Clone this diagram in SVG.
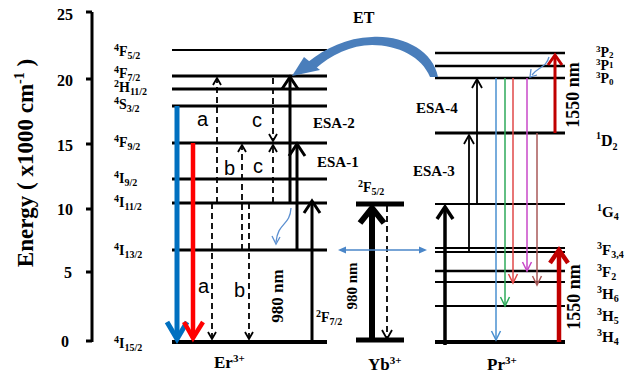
<svg xmlns="http://www.w3.org/2000/svg" width="630" height="376" viewBox="0 0 630 376">
<style>
.t{font-family:"Liberation Serif","Times New Roman",serif;font-weight:bold;fill:#000}
.s{font-size:10px}
.abc{font-family:"Liberation Sans",Arial,sans-serif;font-size:20px;fill:#000}
.lv{stroke:#000;fill:none}
.d{stroke:#000;stroke-width:1.8;stroke-dasharray:6 4;fill:none}
.h{fill:none;stroke-linejoin:miter}
</style>
<rect width="630" height="376" fill="#fff"/>
<g id="axis">
<path d="M92 12V342M86 12H92M86 79H92M86 144H92M86 209H92M86 272H92M86 341H92" stroke="#000" stroke-width="3" fill="none"/>
<g class="t" font-size="16" text-anchor="end">
<text x="73" y="20">25</text><text x="73" y="86">20</text><text x="73" y="151">15</text><text x="73" y="215">10</text><text x="72" y="278">5</text><text x="69" y="347">0</text>
</g>
<text class="t" font-size="23" text-anchor="middle" transform="translate(33,163) rotate(-90)">Energy ( x1000 cm<tspan font-size="14" dy="-9">-1</tspan><tspan dy="9"> )</tspan></text>
</g>
<g id="er">
<path class="lv" stroke-width="2" d="M172 50H327"/>
<path class="lv" stroke-width="3" d="M172 76H327M172 89H327M172 106H327M172 143H327M172 179H327M172 203H327M172 250H327"/>
<path class="lv" stroke-width="4" d="M172 342H327"/>
<g class="t" font-size="14">
<text x="114" y="56"><tspan class="s" dy="-5">4</tspan><tspan dy="5">F</tspan><tspan class="s" dy="3">5/2</tspan></text>
<text x="114" y="78"><tspan class="s" dy="-5">4</tspan><tspan dy="5">F</tspan><tspan class="s" dy="3">7/2</tspan></text>
<text x="114" y="92"><tspan class="s" dy="-5">2</tspan><tspan dy="5">H</tspan><tspan class="s" dy="3">11/2</tspan></text>
<text x="114" y="109"><tspan class="s" dy="-5">4</tspan><tspan dy="5">S</tspan><tspan class="s" dy="3">3/2</tspan></text>
<text x="114" y="147"><tspan class="s" dy="-5">4</tspan><tspan dy="5">F</tspan><tspan class="s" dy="3">9/2</tspan></text>
<text x="114" y="183"><tspan class="s" dy="-5">4</tspan><tspan dy="5">I</tspan><tspan class="s" dy="3">9/2</tspan></text>
<text x="114" y="207"><tspan class="s" dy="-5">4</tspan><tspan dy="5">I</tspan><tspan class="s" dy="3">11/2</tspan></text>
<text x="114" y="255"><tspan class="s" dy="-5">4</tspan><tspan dy="5">I</tspan><tspan class="s" dy="3">13/2</tspan></text>
<text x="114" y="348"><tspan class="s" dy="-5">4</tspan><tspan dy="5">I</tspan><tspan class="s" dy="3">15/2</tspan></text>
</g>
<text class="t" font-size="17" x="214" y="368">Er<tspan font-size="11" dy="-6">3+</tspan></text>
<text class="t" font-size="15" x="313" y="128">ESA-2</text>
<text class="t" font-size="15" x="317" y="167">ESA-1</text>
<text class="t" font-size="14" x="316" y="322"><tspan class="s" dy="-5">2</tspan><tspan dy="5">F</tspan><tspan class="s" dy="3">7/2</tspan></text>
<text class="t" font-size="17" text-anchor="middle" transform="translate(283,296) rotate(-90)">980 nm</text>
<text class="abc" x="197" y="126">a</text><text class="abc" x="198" y="293">a</text>
<text class="abc" x="224" y="175">b</text><text class="abc" x="234" y="297">b</text>
<text class="abc" x="252" y="127">c</text><text class="abc" x="253" y="173">c</text>
</g>
<g id="yb">
<path class="lv" stroke-width="5" d="M356 204H404M356 340H404"/>
<text class="t" font-size="14" x="358" y="192"><tspan class="s" dy="-5">2</tspan><tspan dy="5">F</tspan><tspan class="s" dy="3">5/2</tspan></text>
<text class="t" font-size="17" x="368" y="370">Yb<tspan font-size="11" dy="-6">3+</tspan></text>
<text class="t" font-size="15" text-anchor="middle" transform="translate(357,286) rotate(-90)">980 nm</text>
</g>
<g id="pr">
<path class="lv" stroke-width="2.5" d="M435 53H565M435 66H565M435 78H565"/>
<path class="lv" stroke-width="3" d="M435 133H565"/>
<path class="lv" stroke-width="2" d="M435 204H565M435 248H565M435 252H565M435 282H565M435 306H565"/>
<path class="lv" stroke-width="2.5" d="M435 271H565"/>
<path class="lv" stroke-width="4" d="M435 342H565"/>
<g class="t" font-size="14">
<text x="596" y="57"><tspan font-size="9" dy="-5">3</tspan><tspan dy="5">P</tspan><tspan font-size="9" dy="1">2</tspan></text>
<text x="596" y="70"><tspan font-size="9" dy="-5">3</tspan><tspan dy="5">P</tspan><tspan font-size="9" dy="-2">1</tspan></text>
<text x="596" y="83"><tspan font-size="9" dy="-5">3</tspan><tspan dy="5">P</tspan><tspan font-size="9" dy="2">0</tspan></text>
</g>
<g class="t" font-size="16">
<text x="596" y="146"><tspan font-size="10" dy="-7">1</tspan><tspan dy="7">D</tspan><tspan font-size="10" dy="4">2</tspan></text>
</g>
<g class="t" font-size="15">
<text x="597" y="217"><tspan font-size="10" dy="-6">1</tspan><tspan dy="6">G</tspan><tspan font-size="10" dy="3">4</tspan></text>
<text x="597" y="255"><tspan font-size="10" dy="-6">3</tspan><tspan dy="6">F</tspan><tspan font-size="10" dy="3">3,4</tspan></text>
<text x="597" y="277"><tspan font-size="10" dy="-6">3</tspan><tspan dy="6">F</tspan><tspan font-size="10" dy="3">2</tspan></text>
<text x="597" y="299"><tspan font-size="10" dy="-6">3</tspan><tspan dy="6">H</tspan><tspan font-size="10" dy="3">6</tspan></text>
<text x="597" y="321"><tspan font-size="10" dy="-6">3</tspan><tspan dy="6">H</tspan><tspan font-size="10" dy="3">5</tspan></text>
<text x="597" y="342"><tspan font-size="10" dy="-6">3</tspan><tspan dy="6">H</tspan><tspan font-size="10" dy="3">4</tspan></text>
</g>
<text class="t" font-size="17" x="487" y="370">Pr<tspan font-size="11" dy="-6">3+</tspan></text>
<text class="t" font-size="15" x="416" y="113">ESA-4</text>
<text class="t" font-size="15" x="413" y="176">ESA-3</text>
<text class="t" font-size="18" text-anchor="middle" transform="translate(579,95) rotate(-90)">1550 nm</text>
<text class="t" font-size="18" text-anchor="middle" transform="translate(580,297) rotate(-90)">1550 nm</text>
</g>
<text class="t" font-size="16" x="353" y="23">ET</text>
<g id="connectors">
<path d="M177 106V338" stroke="#0070C0" stroke-width="5"/>
<path class="h" d="M167 322L177 339L187 322" stroke="#0070C0" stroke-width="5"/>
<path d="M193 143V338" stroke="#FF0000" stroke-width="4.5"/>
<path class="h" d="M184 322L193 338L203 322" stroke="#FF0000" stroke-width="4.5"/>
<path class="d" d="M217 203V78"/><path class="h" d="M213 85L217 78L221 85" stroke="#000" stroke-width="1.8"/>
<path class="d" d="M212 203V339"/><path class="h" d="M208 332L212 339L216 332" stroke="#000" stroke-width="1.8"/>
<path class="d" d="M242 250V145"/><path class="h" d="M238 152L242 145L246 152" stroke="#000" stroke-width="1.8"/>
<path class="d" d="M249 203V339"/><path class="h" d="M245 332L249 339L253 332" stroke="#000" stroke-width="1.8"/>
<path class="d" d="M273 78V141"/><path class="h" d="M269 134L273 141L277 134" stroke="#000" stroke-width="1.8"/>
<path class="d" d="M273 203V145"/><path class="h" d="M269 152L273 145L277 152" stroke="#000" stroke-width="1.8"/>
<path d="M290 203V78" stroke="#000" stroke-width="3"/><path class="h" d="M282 89L290 77L298 89" stroke="#000" stroke-width="3"/>
<path d="M297 250V145" stroke="#000" stroke-width="3"/><path class="h" d="M289 156L297 144L305 156" stroke="#000" stroke-width="3"/>
<path d="M312 342V202" stroke="#000" stroke-width="3"/><path class="h" d="M304 213L312 201L320 213" stroke="#000" stroke-width="3"/>
<path d="M291 208C290 226 278 222 276 242" stroke="#5B8FD0" stroke-width="1.3" fill="none"/>
<path class="h" d="M272 236L276 244L280 237" stroke="#5B8FD0" stroke-width="1.3"/>
<path d="M372 340V210" stroke="#000" stroke-width="6"/><path class="h" d="M360 223L372 208L384 223" stroke="#000" stroke-width="6"/>
<path class="d" d="M387 206V338"/><path class="h" d="M382 330L387 339L392 330" stroke="#000" stroke-width="1.8"/>
<path d="M344 250H421" stroke="#4A86C8" stroke-width="1.3"/>
<path d="M338 250L346 246.5V253.5Z M427 250L419 246.5V253.5Z" fill="#4A86C8"/>
<path d="M438 77C433 50 402 35 372 37C346 38 326 48 308 62L315 69C331 55 351 45 372 45C398 45 422 57 430 77Z" fill="#4A7EBB"/>
<path d="M292 76L304 57L320 70Z" fill="#4A7EBB"/>
<path d="M445 345V208" stroke="#000" stroke-width="3.5"/><path class="h" d="M437 219L445 207L453 219" stroke="#000" stroke-width="3.5"/>
<path d="M469 253V136" stroke="#000" stroke-width="1.8"/><path class="h" d="M464 144L469 135L474 144" stroke="#000" stroke-width="1.8"/>
<path d="M477 204V80" stroke="#000" stroke-width="1.8"/><path class="h" d="M472 88L477 79L482 88" stroke="#000" stroke-width="1.8"/>
<path d="M496 78V339" stroke="#4A90D0" stroke-width="1.5"/><path class="h" d="M491.5 331L496 340L500.5 331" stroke="#4A90D0" stroke-width="1.5"/>
<path d="M505 78V305" stroke="#2EAA5A" stroke-width="1.5"/><path class="h" d="M500.5 297L505 306L509.5 297" stroke="#2EAA5A" stroke-width="1.5"/>
<path d="M513 78V282" stroke="#E04848" stroke-width="1.5"/><path class="h" d="M508.5 274L513 283L517.5 274" stroke="#E04848" stroke-width="1.5"/>
<path d="M527 78V270" stroke="#C848C8" stroke-width="1.5"/><path class="h" d="M522.5 262L527 271L531.5 262" stroke="#C848C8" stroke-width="1.5"/>
<path d="M537 133V284" stroke="#A85858" stroke-width="1.5"/><path class="h" d="M532.5 276L537 285L541.5 276" stroke="#A85858" stroke-width="1.5"/>
<path d="M559 342V252" stroke="#C00000" stroke-width="4.5"/><path class="h" d="M550 263L559 250L568 263" stroke="#C00000" stroke-width="4.5"/>
<path d="M555 133V56" stroke="#C00000" stroke-width="3"/><path class="h" d="M548 65L555 55L562 65" stroke="#C00000" stroke-width="3"/>
<path d="M549 57C546 68 539 66 532 75" stroke="#5B8FD0" stroke-width="1.3" fill="none"/>
<path class="h" d="M531 69L530 77L537 75" stroke="#5B8FD0" stroke-width="1.3"/>
</g>
</svg>
